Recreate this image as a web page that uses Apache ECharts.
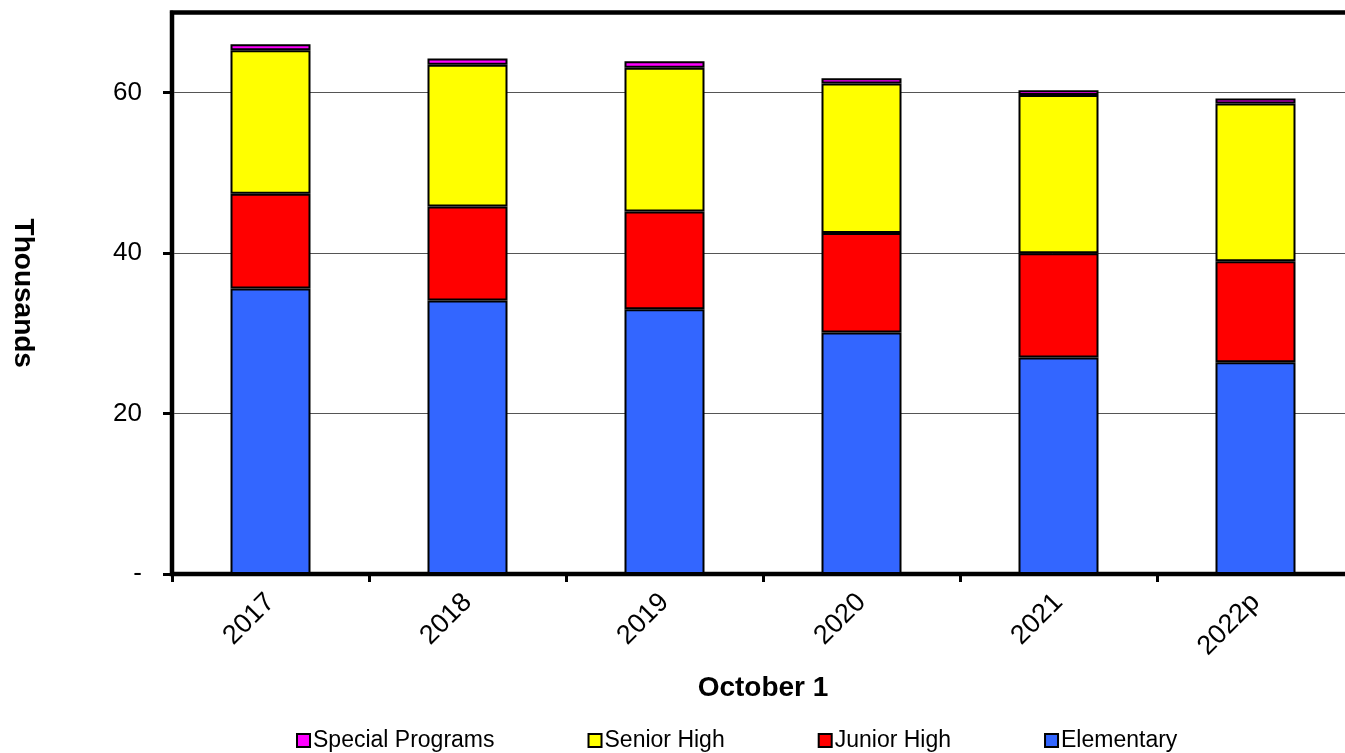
<!DOCTYPE html>
<html>
<head>
<meta charset="utf-8">
<script src="https://cdn.jsdelivr.net/npm/echarts@6/dist/echarts.min.js"></script>
<style>
  html, body { margin: 0; padding: 0; background: #ffffff; }
  #chart { width: 1345px; height: 753px; }
</style>
</head>
<body>
<div id="chart"></div>
<script>
// Enrolment as of October 1, in thousands, stacked by school level
const years = ['2017', '2018', '2019', '2020', '2021', '2022p'];
const elementary = [35.6, 34.1, 33.0, 30.1, 27.0, 26.4];
const juniorHigh = [11.8, 11.7, 12.2, 12.4, 13.0, 12.6];
const seniorHigh = [17.9, 17.7, 17.9, 18.65, 19.73, 19.65];
const specialPrograms = [0.75, 0.75, 0.83, 0.64, 0.58, 0.62];
const yTicks = [0, 20, 40, 60];

const FONT = '"Liberation Sans", Arial, sans-serif';

function barSeries(name, data, color) {
  return {
    name: name,
    type: 'bar',
    stack: 'total',
    data: data,
    barWidth: 80,
    itemStyle: { color: color, borderColor: '#000000', borderWidth: 2 }
  };
}

const chart = echarts.init(document.getElementById('chart'), null, { renderer: 'canvas' });
chart.setOption({
  animation: false,
  backgroundColor: '#ffffff',
  textStyle: { fontFamily: FONT },
  grid: {
    left: 172, top: 12.5, width: 1182, bottom: 179,
    outerBoundsMode: 'none',
    show: true, borderColor: '#000000', borderWidth: 4.5, backgroundColor: 'transparent'
  },
  legend: {
    top: 724,
    left: 291,
    itemGap: 93,
    itemWidth: 13,
    itemHeight: 13,
    icon: 'rect',
    data: ['Special Programs', 'Senior High', 'Junior High', 'Elementary'],
    textStyle: { fontFamily: FONT, fontSize: 23, color: '#000000', padding: [0, 0, 0, -2] },
    itemStyle: { borderColor: '#000000', borderWidth: 2 }
  },
  xAxis: {
    type: 'category',
    data: years,
    name: 'October 1',
    nameLocation: 'middle',
    nameGap: 100,
    nameTextStyle: { fontFamily: FONT, fontSize: 28, fontWeight: 'bold', color: '#000000' },
    axisLine: { lineStyle: { color: '#000000', width: 4 } },
    axisTick: { show: true, length: 8, lineStyle: { color: '#000000', width: 3 } },
    axisLabel: { rotate: 45, margin: 24, fontFamily: FONT, fontSize: 27, color: '#000000' }
  },
  yAxis: {
    type: 'value',
    min: 0,
    max: 70,
    interval: 20,
    name: 'Thousands',
    nameLocation: 'middle',
    nameRotate: -90,
    nameGap: 135,
    nameTextStyle: { fontFamily: FONT, fontSize: 28, fontWeight: 'bold', color: '#000000' },
    axisLine: { show: true, lineStyle: { color: '#000000', width: 4 } },
    axisTick: { show: true, length: 9, customValues: yTicks, lineStyle: { color: '#000000', width: 3 } },
    axisLabel: {
      margin: 30, fontFamily: FONT, fontSize: 26, color: '#000000',
      customValues: yTicks,
      formatter: function (v) { return v === 0 ? '-' : String(v); }
    },
    splitLine: { show: true, lineStyle: { color: '#555555', width: 1 } }
  },
  series: [
    barSeries('Elementary', elementary, '#3366FF'),
    barSeries('Junior High', juniorHigh, '#FF0000'),
    barSeries('Senior High', seniorHigh, '#FFFF00'),
    barSeries('Special Programs', specialPrograms, '#FF00FF')
  ]
});
</script>
</body>
</html>
